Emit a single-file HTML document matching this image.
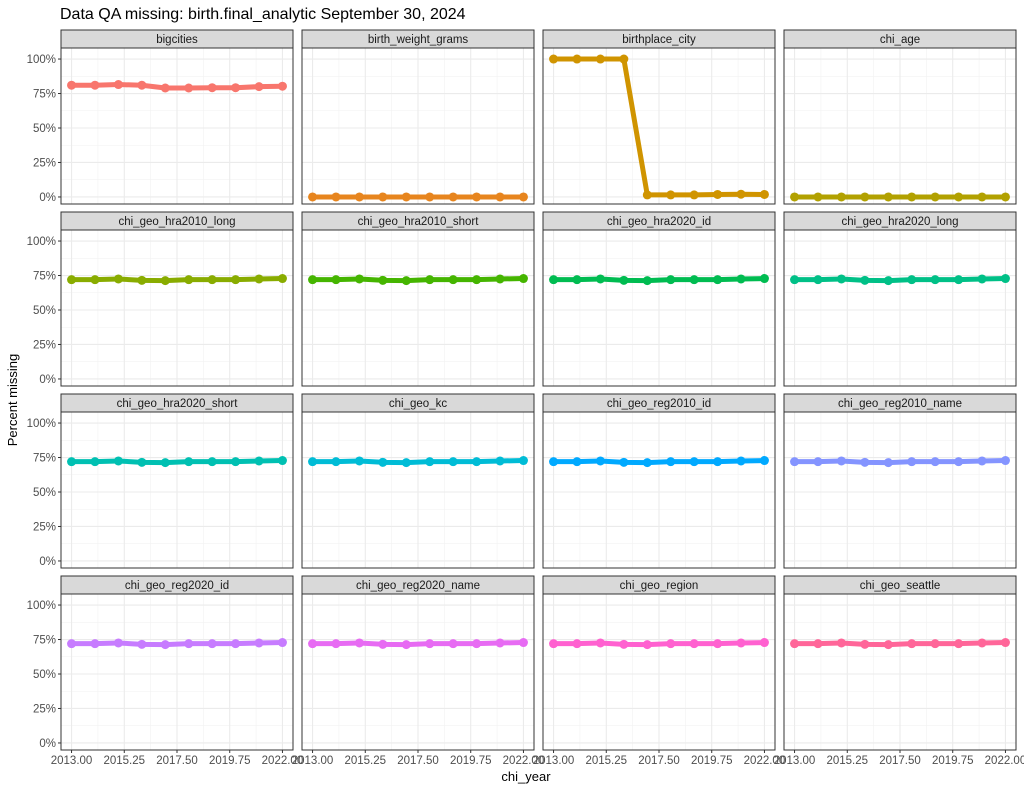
<!DOCTYPE html>
<html><head><meta charset="utf-8"><style>
html,body{margin:0;padding:0;background:#fff;}
svg{display:block;font-family:"Liberation Sans",Arial,sans-serif;}
</style></head><body>
<svg id="chart" width="1024" height="791">
<text x="60" y="19" font-size="16" fill="#000">Data QA missing: birth.final_analytic September 30, 2024</text>
<text x="526" y="781" font-size="13" text-anchor="middle" fill="#000">chi_year</text>
<text transform="translate(17,400) rotate(-90)" font-size="13" text-anchor="middle" fill="#000">Percent missing</text>
</svg>
<script>
const years=[2013,2014,2015,2016,2017,2018,2019,2020,2021,2022];
const panels=["bigcities","birth_weight_grams","birthplace_city","chi_age","chi_geo_hra2010_long","chi_geo_hra2010_short","chi_geo_hra2020_id","chi_geo_hra2020_long","chi_geo_hra2020_short","chi_geo_kc","chi_geo_reg2010_id","chi_geo_reg2010_name","chi_geo_reg2020_id","chi_geo_reg2020_name","chi_geo_region","chi_geo_seattle"];
const colors=["#F8766D","#E7851E","#D09400","#B2A100","#89AC00","#45B500","#00BC51","#00C087","#00C0B2","#00BCD6","#00A9FF","#8494FF","#C77CFF","#E76BF3","#FF61D0","#FF6699"];
const vBig=[81,81,81.5,81,79,79,79.2,79.2,80,80.3];
const vZero=[0,0,0,0,0,0,0,0,0,0];
const vCity=[100,100,100,100,1.5,1.5,1.5,1.8,2,1.8];
const vGeo=[72,72,72.5,71.5,71.3,72,72,72,72.5,72.8];
const series=[vBig,vZero,vCity,vZero,vGeo,vGeo,vGeo,vGeo,vGeo,vGeo,vGeo,vGeo,vGeo,vGeo,vGeo,vGeo];
const yTicks=[0,25,50,75,100];
const yLabels=["0%","25%","50%","75%","100%"];
const xTicks=[2013,2015.25,2017.5,2019.75,2022];
const xLabels=["2013.00","2015.25","2017.50","2019.75","2022.00"];

const NS="http://www.w3.org/2000/svg";
const svg=document.getElementById('chart');
function mk(tag,attrs,parent){const e=document.createElementNS(NS,tag);for(const k in attrs)e.setAttribute(k,attrs[k]);(parent||svg).appendChild(e);return e;}
const colX=[61,302,543,784], PW=232;
const rowY=[48,230,412,594], PH=156, SH=18;
function xs(c,v){const lo=2013-0.45,hi=2022+0.45;return colX[c]+(v-lo)/(hi-lo)*PW;}
function ys(r,v){const lo=-5.1,hi=108;return rowY[r]+PH-(v-lo)/(hi-lo)*PH;}

panels.forEach((name,i)=>{
  const c=i%4,r=Math.floor(i/4);
  const g=mk('g',{});
  
  
  mk('rect',{x:colX[c],y:rowY[r],width:PW,height:PH,fill:'#fff'},g);
  for(let k=0;k<4;k++){const v=(xTicks[k]+xTicks[k+1])/2;const x=xs(c,v);mk('line',{x1:x,x2:x,y1:rowY[r],y2:rowY[r]+PH,stroke:'#f2f2f2','stroke-width':0.6},g);}
  for(let k=0;k<4;k++){const v=(yTicks[k]+yTicks[k+1])/2;const y=ys(r,v);mk('line',{x1:colX[c],x2:colX[c]+PW,y1:y,y2:y,stroke:'#f2f2f2','stroke-width':0.6},g);}
  const yTop=ys(r,112.5);mk('line',{x1:colX[c],x2:colX[c]+PW,y1:yTop,y2:yTop,stroke:'#f2f2f2','stroke-width':0.6},g);
  xTicks.forEach(v=>{const x=xs(c,v);mk('line',{x1:x,x2:x,y1:rowY[r],y2:rowY[r]+PH,stroke:'#ebebeb','stroke-width':1.1},g);});
  yTicks.forEach(v=>{const y=ys(r,v);mk('line',{x1:colX[c],x2:colX[c]+PW,y1:y,y2:y,stroke:'#ebebeb','stroke-width':1.1},g);});
  const s=mk('rect',{x:colX[c],y:rowY[r]-SH,width:PW,height:SH,fill:'#d9d9d9',stroke:'#333','stroke-width':1},g);
  
  
  const st=mk('text',{x:colX[c]+PW/2,y:rowY[r]-SH/2+4,'font-size':11.5,'text-anchor':'middle',fill:'#1a1a1a'},g);
  st.textContent=name;
  const vals=series[i];
  const pts=years.map((yr,k)=>xs(c,yr)+','+ys(r,vals[k])).join(' ');
  const pl=mk('polyline',{points:pts,fill:'none',stroke:colors[i],'stroke-width':5,'stroke-linejoin':'round'},g);
  
  
  years.forEach((yr,k)=>{
    const p=mk('circle',{cx:xs(c,yr),cy:ys(r,vals[k]),r:4.5,fill:colors[i]},g);
    
    
  });
  mk('rect',{x:colX[c],y:rowY[r],width:PW,height:PH,fill:'none',stroke:'#333','stroke-width':1},g);
  if(c===0){yTicks.forEach((v,k)=>{const y=ys(r,v);mk('line',{x1:colX[c]-3,x2:colX[c],y1:y,y2:y,stroke:'#333'},g);
    const t=mk('text',{x:colX[c]-5,y:y+4,'font-size':11.5,'text-anchor':'end',fill:'#4d4d4d'},g);t.textContent=yLabels[k];
    
    });}
  if(r===3){xTicks.forEach((v,k)=>{const x=xs(c,v);mk('line',{x1:x,x2:x,y1:rowY[r]+PH,y2:rowY[r]+PH+3,stroke:'#333'},g);
    const t=mk('text',{x:x,y:rowY[r]+PH+14,'font-size':11.5,'text-anchor':'middle',fill:'#4d4d4d'},g);t.textContent=xLabels[k];
    
    });}
});
</script>
</body></html>
